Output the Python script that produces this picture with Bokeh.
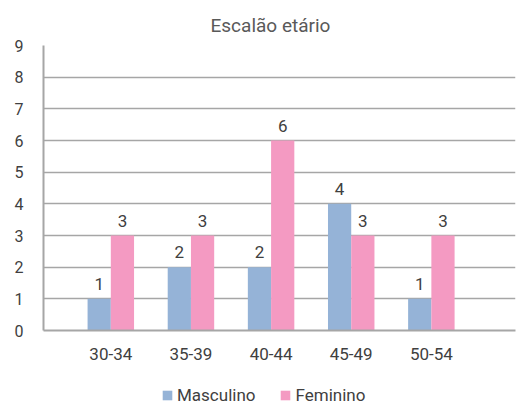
import numpy as np
from bokeh.plotting import figure
from bokeh.layouts import column
from bokeh.models import ColumnDataSource, FixedTicker, Legend, LegendItem, Range1d
from bokeh.core.properties import value
from bokeh.embed import file_html
from bokeh.resources import INLINE

categories = ["30-34", "35-39", "40-44", "45-49", "50-54"]
masculino = [1, 2, 2, 4, 1]
feminino = [3, 3, 6, 3, 3]
y_ticks = [0, 1, 2, 3, 4, 5, 6, 7, 8, 9]
series_names = ["Masculino", "Feminino"]

FONT = "Roboto"
BLUE = "#95b3d7"
PINK = "#f49ac2"
TXT = "#404040"
GRID = "#a6a6a6"

idx = np.arange(len(categories))
off = 0.145
bw = 0.29

src = ColumnDataSource(dict(
    xm=idx - off, xf=idx + off,
    m=masculino, f=feminino,
    ml=[str(v) for v in masculino], fl=[str(v) for v in feminino],
))

p = figure(width=522, height=375, output_backend="svg", toolbar_location=None,
           x_range=Range1d(-0.84, 5.05), y_range=Range1d(0, 9),
           min_border_left=43, min_border_right=7, min_border_top=45, min_border_bottom=45)
p.outline_line_color = None

p.vbar(x="xm", top="m", width=bw, bottom=0, source=src, fill_color=BLUE, line_color=None)
p.vbar(x="xf", top="f", width=bw, bottom=0, source=src, fill_color=PINK, line_color=None)

for xcol, ycol, lcol in (("xm", "m", "ml"), ("xf", "f", "fl")):
    p.text(x=xcol, y=ycol, text=lcol, source=src, text_align="center", text_baseline="alphabetic",
           y_offset=-15, text_font_size="17px", text_color=TXT, text_font=value(FONT))

p.title.text = "Escalão etário"
p.title.align = "left"
p.title.offset = 167
p.title.text_font = FONT
p.title.text_font_size = "19px"
p.title.text_font_style = "normal"
p.title.text_color = "#595959"
p.title.standoff = 17

p.xgrid.grid_line_color = None
p.ygrid.ticker = FixedTicker(ticks=y_ticks)
p.ygrid.grid_line_color = GRID
p.ygrid.grid_line_width = 1.5

p.yaxis.ticker = FixedTicker(ticks=y_ticks)
p.yaxis.axis_line_color = GRID
p.yaxis.axis_line_width = 2
p.yaxis.major_tick_line_color = None
p.yaxis.minor_tick_line_color = None
p.yaxis.major_label_text_font = FONT
p.yaxis.major_label_text_font_size = "16px"
p.yaxis.major_label_text_color = TXT
p.yaxis.major_label_standoff = 14

p.xaxis.ticker = FixedTicker(ticks=list(idx))
p.xaxis.major_label_overrides = {int(i): c for i, c in zip(idx, categories)}
p.xaxis.axis_line_color = GRID
p.xaxis.axis_line_width = 2
p.xaxis.major_tick_line_color = None
p.xaxis.minor_tick_line_color = None
p.xaxis.major_label_text_font = FONT
p.xaxis.major_label_text_font_size = "17px"
p.xaxis.major_label_text_color = TXT
p.xaxis.major_label_standoff = 11

# legend strip below the chart
lp = figure(width=522, height=30, output_backend="svg", toolbar_location=None,
            x_range=Range1d(0, 1), y_range=Range1d(0, 1),
            x_axis_location=None, y_axis_location=None,
            min_border_left=0, min_border_right=0, min_border_top=0, min_border_bottom=0)
lp.grid.visible = False
lp.outline_line_color = None
placeholder = ColumnDataSource(dict(x=[np.nan], top=[np.nan]))
lm = lp.vbar(x="x", top="top", width=0.1, source=placeholder, fill_color=BLUE, line_color=None)
lf = lp.vbar(x="x", top="top", width=0.1, source=placeholder, fill_color=PINK, line_color=None)
legend = Legend(items=[LegendItem(label=series_names[0], renderers=[lm]),
                       LegendItem(label=series_names[1], renderers=[lf])],
                orientation="horizontal", location=(118, 0),
                glyph_width=12, glyph_height=12, label_standoff=4, spacing=24,
                label_text_font=FONT, label_text_font_size="17px", label_text_color=TXT,
                border_line_color=None, background_fill_alpha=0, padding=0, margin=0)
lp.add_layout(legend, "center")

layout = column(p, lp, spacing=0)
open("out.html", "w").write(file_html(layout, INLINE))
